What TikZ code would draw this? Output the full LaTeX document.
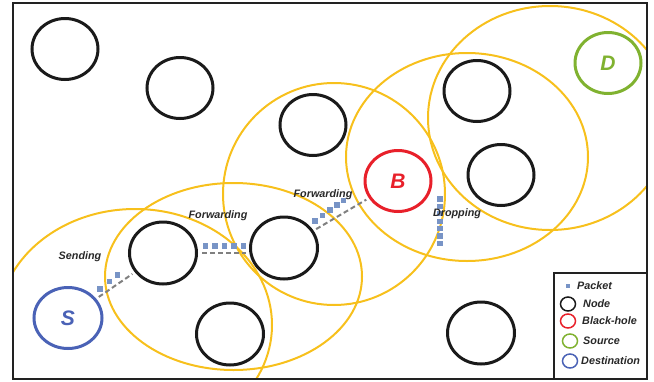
\documentclass[tikz,border=0pt]{standalone}
\usepackage{fontspec}
\setmainfont{Liberation Sans}
\usetikzlibrary{shapes.geometric}
\definecolor{ylw}{RGB}{247,192,28}
\definecolor{nodeblack}{RGB}{26,26,26}
\definecolor{bhred}{RGB}{232,32,42}
\definecolor{srcgreen}{RGB}{128,178,48}
\definecolor{dstblue}{RGB}{74,98,182}
\definecolor{pktblue}{RGB}{120,148,198}
\definecolor{dashgray}{RGB}{128,128,128}
\definecolor{framecol}{RGB}{34,34,34}
\definecolor{labelgray}{RGB}{40,40,40}
\begin{document}
\begin{tikzpicture}[x=1pt,y=-1pt,
  host/.style={ellipse,draw=nodeblack,line width=3pt,inner sep=0pt,
    minimum width=66pt,minimum height=61pt,
    font=\fontsize{21}{24}\selectfont\bfseries\itshape},
  txrange/.style={draw=ylw,line width=2pt},
  hop/.style={draw=dashgray,line width=2pt,dash pattern=on 5pt off 3pt,
    shorten <=3pt,shorten >=3pt},
  pkt/.style={fill=pktblue},
  lbl/.style={font=\fontsize{10.8}{12}\selectfont\bfseries\itshape,
    text=labelgray,inner sep=0pt,anchor=base},
  lgdtext/.style={font=\fontsize{10.8}{12}\selectfont\bfseries\itshape,
    text=labelgray,inner sep=0pt,anchor=base west},
  lgdc/.style={ellipse,line width=1.5pt,inner sep=0pt,
    minimum width=15pt,minimum height=14pt},
]
\useasboundingbox (0,0) rectangle (654,381);

% transmission ranges
\begin{scope}
  \clip (13,3) rectangle (647,379);
  \draw[txrange] (135,325) ellipse [x radius=137pt, y radius=116pt];
  \draw[txrange] (233.5,276.5) ellipse [x radius=128.5pt, y radius=93.5pt];
  \draw[txrange] (334,194) ellipse [x radius=111pt, y radius=111pt];
  \draw[txrange] (467,157) ellipse [x radius=121pt, y radius=104pt];
  \draw[txrange] (550,118) ellipse [x radius=122pt, y radius=112pt];
\end{scope}

% frame
\draw[framecol,line width=2pt] (13,3) rectangle (647,379);

% hosts
\node[host] (n1) at (65,49) {};
\node[host] (n2) at (180,88) {};
\node[host] (n3) at (313,125) {};
\node[host,draw=bhred,text=bhred] (B) at (398,181) {B};
\node[host] (n4) at (477,91) {};
\node[host] (n5) at (501,175) {};
\node[host,draw=srcgreen,text=srcgreen] (D) at (608,63) {D};
\node[host,draw=dstblue,text=dstblue,minimum width=68pt] (S) at (68,318) {S};
\node[host,minimum width=67pt,minimum height=62pt] (n6) at (163,253) {};
\node[host,minimum width=67pt,minimum height=62pt] (n7) at (230,334) {};
\node[host,minimum width=67pt,minimum height=62pt] (n8) at (284,248) {};
\node[host,minimum width=67pt,minimum height=62pt] (n9) at (481,333) {};

% hops
\draw[hop] (S) -- (n6);
\draw[hop,shorten <=4pt] (n6.east) -- (n6.east -| n8.west);
\draw[hop] (n8) -- (B);

% packets
\foreach \px/\py in {100/289,109.5/281.5,117.5/275,
  205.5/246,215/246,224.5/246,234/246,243.5/246,
  315/221,322.5/215.5,330/210,337/205,343.5/200.5,
  440/199,440/206.4,440/213.8,440/221.2,440/228.6,440/236,440/243.4}
  \fill[pkt] (\px,\py) +(-2.6,-2.6) rectangle +(2.6,2.6);

% labels
\node[lbl] (lsend) at (80,259.8) {Sending};
\node[lbl] (lfw1) at (218,218.8) {Forwarding};
\node[lbl] (lfw2) at (323,197.8) {Forwarding};
\node[lbl] (ldrop) at (457,216.8) {Dropping};

% legend
\draw[framecol,line width=2pt,fill=white] (554,273) rectangle (647,379);
\fill[pkt] (568,286) +(-2.4,-2.4) rectangle +(2.4,2.4);
\node[lgdtext] (lgpkt) at (577,289.8) {Packet};
\node[lgdc,draw=nodeblack] (lgcn) at (568,304) {};
\node[lgdtext] (lgn) at (583,307.8) {Node};
\node[lgdc,draw=bhred] (lgcb) at (568,321) {};
\node[lgdtext] (lgb) at (582,324.8) {Black-hole};
\node[lgdc,draw=srcgreen] (lgcs) at (570,341) {};
\node[lgdtext] (lgs) at (583,344.8) {Source};
\node[lgdc,draw=dstblue] (lgcd) at (570,361) {};
\node[lgdtext] (lgdest) at (581,364.8) {Destination};
\end{tikzpicture}
\end{document}
